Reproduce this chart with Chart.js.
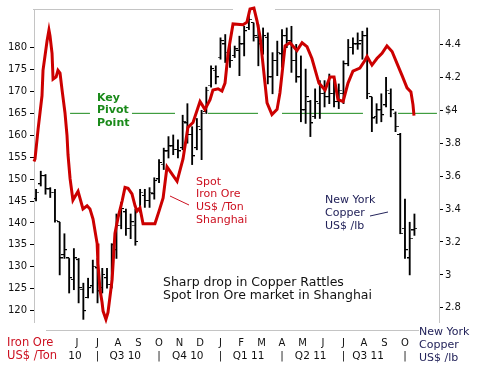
<!DOCTYPE html>
<html lang="en">
<head>
<meta charset="UTF-8">
<title>Iron Ore vs Copper</title>
<style>
    body { margin: 0; background: #fff; }
    #wrap { width: 477px; height: 365px; }
</style>
</head>
<body>
<div id="wrap"><canvas id="myChart"></canvas></div>
<script src="https://cdn.jsdelivr.net/npm/chart.js@4.4.0/dist/chart.umd.min.js"></script>
<script>
    // x axis runs in months counted from 1 Apr 2010
    const monthTicks = [2, 3, 4, 5, 6, 7, 8, 9, 10, 11, 12, 13, 14, 15, 16, 17, 18];
    const monthLabels = ['J', 'J', 'A', 'S', 'O', 'N', 'D', 'J', 'F', 'M', 'A', 'M', 'J', 'J', 'A', 'S', 'O'];
    const quarterTicks = [1.9, 3, 4.35, 6, 7.4, 9, 10.37, 12, 13.4, 15, 16.2, 18];
    const quarterLabels = ['10', '|', 'Q3 10', '|', 'Q4 10', '|', 'Q1 11', '|', 'Q2 11', '|', 'Q3 11', '|'];

    const ironTicks = [120, 125, 130, 135, 140, 145, 150, 155, 160, 165, 170, 175, 180];
    const copperTicks = [2.8, 3, 3.2, 3.4, 3.6, 3.8, 4, 4.2, 4.4];
    const copperTickLabels = ['2.8', '3', '3.2', '3.4', '3.6', '3.8', '$4', '4.2', '4.4'];

    // spot iron ore, Shanghai (US$/ton)
    const ironMonth = [-0.10, -0.05, 0.10, 0.29, 0.34, 0.54, 0.63, 0.68, 0.78, 0.83, 0.98, 1.07, 1.17, 1.27, 1.41, 1.51, 1.56, 1.66, 1.80, 2.05,
        2.29, 2.49, 2.63, 2.78, 2.98, 3.02, 3.12, 3.22, 3.27, 3.41, 3.51, 3.71, 3.85, 4.00, 4.20, 4.34, 4.49, 4.68, 4.83, 4.93,
        5.07, 5.22, 5.56, 5.80, 6.00, 6.20, 6.39, 6.88, 7.17, 7.41, 7.66, 8.00, 8.24, 8.49, 8.63, 8.88, 9.07, 9.22, 9.37, 9.61,
        10.10, 10.29, 10.44, 10.63, 10.78, 10.93, 11.17, 11.27, 11.51, 11.76, 11.90, 12.15, 12.39, 12.73, 12.98, 13.22, 13.46, 13.80, 14.10, 14.34,
        14.54, 14.73, 14.98, 15.22, 15.46, 15.80, 16.05, 16.15, 16.39, 16.63, 16.88, 17.12, 17.37, 17.61, 17.85, 18.10, 18.29, 18.39, 18.44];
    const ironPrice = [154.0, 154.6, 161.4, 169.0, 174.8, 181.6, 184.0, 182.7, 178.7, 172.8, 173.3, 174.8, 174.2, 170.3, 165.2, 160.0, 155.5, 150.1, 145.2, 147.2,
        143.2, 143.9, 143.2, 140.9, 135.3, 130.8, 124.8, 121.9, 119.9, 118.0, 119.6, 127.0, 137.6, 141.2, 145.0, 148.1, 147.9, 146.6, 143.9, 142.7,
        143.4, 139.8, 139.8, 139.8, 142.7, 145.7, 152.8, 149.5, 154.6, 161.8, 162.9, 167.7, 165.9, 168.1, 170.3, 170.6, 170.1, 171.9, 178.7, 185.4,
        185.2, 185.8, 188.8, 189.0, 186.1, 182.5, 171.9, 167.4, 164.7, 165.9, 169.7, 180.4, 181.1, 179.3, 181.1, 180.2, 177.5, 171.9, 170.3, 173.3,
        173.3, 168.1, 167.7, 171.9, 174.6, 175.3, 177.1, 178.0, 176.0, 177.5, 178.7, 180.4, 179.1, 176.4, 173.7, 170.8, 169.9, 167.0, 164.5];

    // New York copper, weekly bars (US$/lb)
    const copperOpen = [3.46, 3.55, 3.60, 3.52, 3.50, 3.32, 3.12, 3.10, 2.97, 3.09, 2.91, 2.86, 2.93, 3.04, 2.92, 2.98, 2.94, 3.15, 3.30, 3.38,
        3.28, 3.30, 3.40, 3.48, 3.45, 3.49, 3.58, 3.67, 3.75, 3.78, 3.76, 3.77, 3.92, 3.85, 3.77, 3.88, 3.99, 4.15, 4.24, 4.32,
        4.40, 4.33, 4.33, 4.36, 4.40, 4.50, 4.53, 4.44, 4.38, 4.44, 4.20, 4.30, 4.34, 4.45, 4.42, 4.30, 4.20, 4.00, 4.05, 3.96,
        4.04, 4.10, 4.08, 4.10, 4.05, 4.10, 4.28, 4.38, 4.40, 4.42, 4.45, 4.08, 3.96, 4.00, 4.03, 4.10, 3.98, 3.85, 3.28, 3.10, 3.27];
    const copperHigh = [3.52, 3.63, 3.61, 3.53, 3.52, 3.32, 3.25, 3.10, 3.16, 3.10, 2.95, 2.98, 3.09, 3.10, 3.04, 3.04, 3.19, 3.37, 3.44, 3.40,
        3.37, 3.40, 3.52, 3.52, 3.53, 3.59, 3.70, 3.77, 3.84, 3.85, 3.82, 3.97, 4.04, 3.90, 3.95, 4.00, 4.14, 4.27, 4.27, 4.44,
        4.46, 4.42, 4.39, 4.45, 4.51, 4.60, 4.53, 4.52, 4.50, 4.47, 4.35, 4.42, 4.49, 4.50, 4.51, 4.40, 4.33, 4.25, 4.06, 4.13,
        4.18, 4.18, 4.22, 4.19, 4.16, 4.30, 4.43, 4.44, 4.47, 4.48, 4.50, 4.08, 4.04, 4.10, 4.20, 4.13, 3.99, 3.86, 3.46, 3.32, 3.37];
    const copperLow = [3.45, 3.54, 3.49, 3.47, 3.32, 3.00, 3.10, 2.89, 2.91, 2.83, 2.73, 2.86, 2.89, 2.83, 2.89, 2.92, 2.92, 3.10, 3.28, 3.24,
        3.22, 3.18, 3.38, 3.41, 3.41, 3.46, 3.56, 3.64, 3.71, 3.73, 3.71, 3.76, 3.80, 3.67, 3.76, 3.70, 3.98, 4.14, 4.16, 4.31,
        4.29, 4.26, 4.32, 4.21, 4.33, 4.49, 4.42, 4.27, 4.34, 4.16, 4.10, 4.21, 4.26, 4.38, 4.23, 4.17, 3.93, 3.92, 3.84, 3.95,
        3.95, 4.02, 4.04, 4.02, 4.01, 4.04, 4.27, 4.34, 4.37, 4.31, 4.07, 3.87, 3.92, 3.93, 4.02, 3.96, 3.87, 3.25, 3.10, 3.00, 3.24];
    const copperClose = [3.50, 3.60, 3.52, 3.50, 3.33, 3.10, 3.15, 2.98, 3.10, 2.92, 2.78, 2.92, 3.05, 2.90, 3.00, 2.94, 3.18, 3.30, 3.40, 3.28,
        3.32, 3.20, 3.50, 3.45, 3.50, 3.57, 3.68, 3.75, 3.78, 3.76, 3.75, 3.93, 3.85, 3.72, 3.90, 3.98, 4.12, 4.25, 4.20, 4.42,
        4.35, 4.30, 4.37, 4.40, 4.48, 4.55, 4.45, 4.40, 4.45, 4.20, 4.30, 4.35, 4.45, 4.42, 4.30, 4.20, 4.00, 4.08, 3.92, 4.05,
        4.10, 4.08, 4.10, 4.05, 4.12, 4.28, 4.38, 4.40, 4.40, 4.45, 4.10, 3.95, 4.00, 3.97, 4.12, 4.00, 3.90, 3.25, 3.15, 3.22, 3.28];

    // key pivot line (iron ore axis) drawn in pieces
    const pivotLevel = 165;
    const pivotFrom = [1.66, 4.68, 8.39, 12.0, 17.66];
    const pivotTo = [2.63, 6.78, 10.83, 15.95, 19.56];

    const weekToMonth = w => w * 12 / 52;

    let barData = [], openData = [], closeData = [];
    for (let i = 0; i < copperHigh.length; i++) {
        let m = weekToMonth(i);
        barData.push({ x: m, y: [copperLow[i], copperHigh[i]] });
        openData.push({ x: m, y: copperOpen[i] });
        closeData.push({ x: m, y: copperClose[i] });
    }
    let ironData = ironMonth.map((m, i) => ({ x: m, y: ironPrice[i] }));
    let pivotData = [];
    for (let i = 0; i < pivotFrom.length; i++) {
        pivotData.push({ x: pivotFrom[i], y: pivotLevel });
        pivotData.push({ x: pivotTo[i], y: pivotLevel });
        pivotData.push({ x: pivotTo[i] + 0.01, y: null });
    }

    // little tick images for open (left) and close (right)
    function tickImage(left) {
        const c = document.createElement('canvas');
        c.width = 6; c.height = 2;
        const g = c.getContext('2d');
        g.fillStyle = '#000';
        g.fillRect(left ? 0 : 3, 0, 3, 1);
        return c;
    }

    const textColorRed = '#cc1020';
    const textColorNavy = '#23235a';
    const green = '#1a8a1a';

    const extras = {
        id: 'extras',
        afterDraw(chart) {
            const ctx = chart.ctx;
            const a = chart.chartArea;
            ctx.save();
            // frame
            ctx.strokeStyle = '#c4c4c4';
            ctx.lineWidth = 1;
            ctx.beginPath();
            ctx.moveTo(a.left - 1, a.top + 0.5); ctx.lineTo(233, a.top + 0.5);
            ctx.moveTo(275, a.top + 0.5); ctx.lineTo(a.right, a.top + 0.5);
            ctx.moveTo(46, 330.5); ctx.lineTo(419, 330.5);
            ctx.stroke();

            ctx.textBaseline = 'middle';
            ctx.textAlign = 'left';

            ctx.fillStyle = green;
            ctx.font = 'bold 11px "DejaVu Sans"';
            ctx.fillText('Key', 97, 98);
            ctx.fillText('Pivot', 97, 110);
            ctx.fillText('Point', 97, 123);

            ctx.fillStyle = textColorRed;
            ctx.font = '11px "DejaVu Sans"';
            ctx.fillText('Spot', 196, 182);
            ctx.fillText('Iron Ore', 196, 194);
            ctx.fillText('US$ /Ton', 196, 207);
            ctx.fillText('Shanghai', 196, 220);
            ctx.strokeStyle = textColorRed;
            ctx.beginPath();
            ctx.moveTo(170, 196); ctx.lineTo(189, 205);
            ctx.stroke();

            ctx.font = '11.5px "DejaVu Sans"';
            ctx.fillText('Iron Ore', 7, 343);
            ctx.fillText('US$ /Ton', 7, 356);

            ctx.fillStyle = textColorNavy;
            ctx.font = '11px "DejaVu Sans"';
            ctx.fillText('New York', 325, 200);
            ctx.fillText('Copper', 325, 213);
            ctx.fillText('US$ /lb', 325, 226);
            ctx.fillText('New York', 419, 332);
            ctx.fillText('Copper', 419, 345);
            ctx.fillText('US$ /lb', 419, 358);
            ctx.strokeStyle = textColorNavy;
            ctx.beginPath();
            ctx.moveTo(370, 216); ctx.lineTo(388, 212);
            ctx.stroke();

            ctx.fillStyle = '#111';
            ctx.font = '12.5px "DejaVu Sans"';
            ctx.fillText('Sharp drop in Copper Rattles', 163, 283);
            ctx.fillText('Spot Iron Ore market in Shanghai', 163, 296);
            ctx.restore();
        }
    };

    Chart.defaults.font.family = '"DejaVu Sans", sans-serif';
    Chart.defaults.font.size = 10;
    Chart.defaults.color = '#111';

    const ctx = document.getElementById('myChart');
    new Chart(ctx, {
        data: {
            datasets: [
                {
                    type: 'line', data: ironData, yAxisID: 'yL', borderColor: '#cc0000', borderWidth: 3,
                    pointRadius: 0, tension: 0, clip: false, order: 0
                },
                {
                    type: 'scatter', data: openData, yAxisID: 'yR', pointStyle: tickImage(true), pointRadius: 3, order: 1
                },
                {
                    type: 'scatter', data: closeData, yAxisID: 'yR', pointStyle: tickImage(false), pointRadius: 3, order: 1
                },
                {
                    type: 'bar', data: barData, yAxisID: 'yR', backgroundColor: '#000', barThickness: 1.2, order: 2
                },
                {
                    type: 'line', data: pivotData, yAxisID: 'yL', borderColor: green, borderWidth: 1,
                    pointRadius: 0, spanGaps: false, order: 3
                }
            ]
        },
        options: {
            responsive: true,
            maintainAspectRatio: false,
            animation: false,
            layout: { padding: { top: 4 } },
            plugins: { legend: { display: false }, tooltip: { enabled: false } },
            scales: {
                x: {
                    type: 'linear', position: 'bottom', min: -0.1, max: 19.66, weight: 0, offset: false,
                    grid: { display: false, drawTicks: false, offset: false }, border: { display: false },
                    ticks: { padding: 15, maxRotation: 0, autoSkip: false, font: { size: 10 }, callback: (v, i) => monthLabels[i] },
                    afterBuildTicks: s => { s.ticks = monthTicks.map(v => ({ value: v })); },
                    afterFit: s => { s.height = 28; }
                },
                xQ: {
                    type: 'linear', position: 'bottom', min: -0.1, max: 19.66, weight: 1, offset: false,
                    grid: { display: false, drawTicks: false, offset: false }, border: { display: false },
                    ticks: { padding: 0, maxRotation: 0, autoSkip: false, font: { size: 10.5 }, callback: (v, i) => quarterLabels[i] },
                    afterBuildTicks: s => { s.ticks = quarterTicks.map(v => ({ value: v })); },
                    afterFit: s => { s.height = 15; }
                },
                yL: {
                    type: 'linear', position: 'left', min: 117.4, max: 188.8,
                    grid: { drawOnChartArea: false, drawTicks: true, tickLength: 4, tickColor: '#000' },
                    border: { display: true, color: '#c4c4c4' },
                    ticks: { padding: 3, callback: (v) => v },
                    afterBuildTicks: s => { s.ticks = ironTicks.map(v => ({ value: v })); },
                    afterFit: s => { s.width = 34; }
                },
                yR: {
                    type: 'linear', position: 'right', min: 2.714, max: 4.615,
                    grid: { drawOnChartArea: false, drawTicks: true, tickLength: 4, tickColor: '#000' },
                    border: { display: true, color: '#c4c4c4' },
                    ticks: { padding: 2, callback: (v, i) => copperTickLabels[i] },
                    afterBuildTicks: s => { s.ticks = copperTicks.map(v => ({ value: v })); },
                    afterFit: s => { s.width = 38; }
                }
            }
        },
        plugins: [extras]
    });
</script>
</body>
</html>
